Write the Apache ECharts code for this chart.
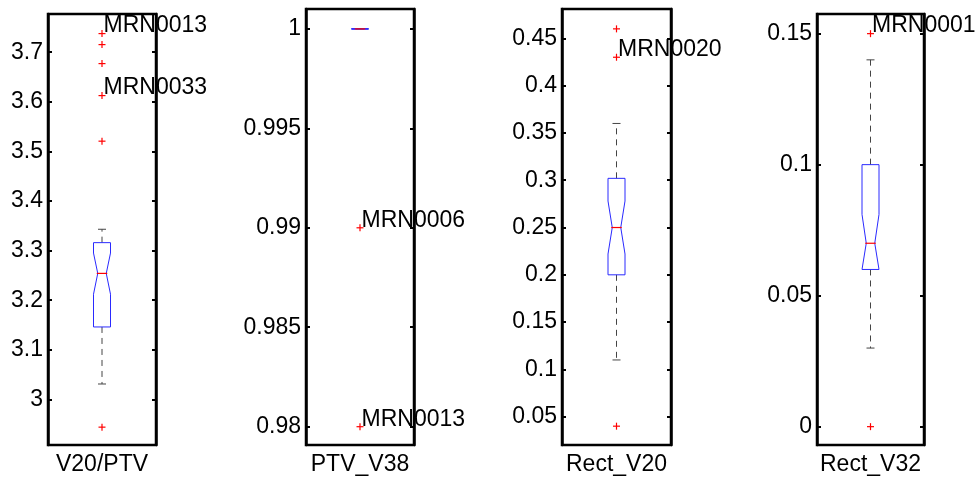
<!DOCTYPE html>
<html>
<head>
<meta charset="utf-8">
<script src="https://cdn.jsdelivr.net/npm/echarts@6/dist/echarts.min.js"></script>
<style>
  html, body { margin: 0; padding: 0; background: #fff; }
  #chart { width: 976px; height: 479px; }
</style>
</head>
<body>
<div id="chart"></div>
<script>
// box statistics, one entry per panel
var categories = ["V20/PTV", "PTV_V38", "Rect_V20", "Rect_V32"];
var lowerWhisker = [3.031, 1, 0.11, 0.03];
var q1 = [3.146, 1, 0.2, 0.06];
var median = [3.254, 1, 0.25, 0.07];
var q3 = [3.316, 1, 0.302, 0.1];
var upperWhisker = [3.343, 1, 0.36, 0.14];
var notchLow = [3.212, 1, 0.222, 0.059];
var notchHigh = [3.295, 1, 0.278, 0.081];

// outliers
var outlierPanel = [0, 0, 0, 0, 0, 0, 1, 1, 2, 2, 2, 3, 3];
var outlierValue = [3.7375, 3.7153, 3.677, 3.6125, 3.5206, 2.944, 0.99, 0.98, 0.46, 0.43, 0.04, 0.15, 0];
var outlierName = ["MRN0013", "", "", "MRN0033", "", "", "MRN0006", "MRN0013", "", "MRN0020", "", "MRN0001", ""];

// axis ranges
var yMin = [2.908, 0.97908, 0.0201, -0.007];
var yMax = [3.777, 1.001, 0.481, 0.1575];
var ySplit = [9, 4, 9, 3];

var FONT = "Liberation Sans, Arial, Helvetica, sans-serif";
var gridPos = [
  { left: 48, top: 14, width: 108, height: 431 },
  { left: 306, top: 9, width: 108, height: 436 },
  { left: 562, top: 9, width: 109, height: 436 },
  { left: 817, top: 14, width: 107, height: 431 }
];

function renderBox(params, api) {
  var i = api.value(0);
  var half = 8.5;
  var p = function(v) { return api.coord([i, v]); };
  var x = p(api.value(3))[0];
  var yLw = p(api.value(1))[1], yQ1 = p(api.value(2))[1], yMed = p(api.value(3))[1];
  var yQ3 = p(api.value(4))[1], yUw = p(api.value(5))[1];
  var yNl = Math.min(p(api.value(6))[1], yQ1), yNh = Math.max(p(api.value(7))[1], yQ3);
  var dash = { stroke: "#444", lineWidth: 1, lineDash: [6, 5] };
  var cap = { stroke: "#444", lineWidth: 1 };
  return {
    type: "group",
    children: [
      { type: "line", shape: { x1: x, y1: yQ3, x2: x, y2: yUw }, style: dash },
      { type: "line", shape: { x1: x, y1: yQ1, x2: x, y2: yLw }, style: dash },
      { type: "line", shape: { x1: x - 4, y1: yUw, x2: x + 4, y2: yUw }, style: cap },
      { type: "line", shape: { x1: x - 4, y1: yLw, x2: x + 4, y2: yLw }, style: cap },
      {
        type: "polygon",
        shape: {
          points: [
            [x - half, yQ1], [x - half, yNl], [x - half / 2, yMed], [x - half, yNh], [x - half, yQ3],
            [x + half, yQ3], [x + half, yNh], [x + half / 2, yMed], [x + half, yNl], [x + half, yQ1]
          ]
        },
        style: { fill: "none", stroke: "#2a2aff", lineWidth: 1, lineJoin: "bevel" }
      },
      { type: "line", shape: { x1: x - half / 2 - 1, y1: yMed, x2: x + half / 2 + 1, y2: yMed }, style: { stroke: "#ff0000", lineWidth: 1.2 } }
    ]
  };
}

function renderOutlier(params, api) {
  var pt = api.coord([0, api.value(1)]);
  var name = outlierName[api.value(2)];
  var s = 3.5;
  var children = [
    { type: "line", shape: { x1: pt[0] - s, y1: pt[1], x2: pt[0] + s, y2: pt[1] }, style: { stroke: "#ff0000", lineWidth: 1.2 } },
    { type: "line", shape: { x1: pt[0], y1: pt[1] - s, x2: pt[0], y2: pt[1] + s }, style: { stroke: "#ff0000", lineWidth: 1.2 } }
  ];
  if (name) {
    children.push({
      type: "text",
      style: { text: name, x: pt[0] + 1.5, y: pt[1] + 4, font: "23px " + FONT, fill: "#000", align: "left", verticalAlign: "bottom" }
    });
  }
  return { type: "group", children: children };
}

var grids = [], xAxes = [], yAxes = [], series = [];
categories.forEach(function(cat, k) {
  grids.push(Object.assign({ show: true, borderColor: "#000", borderWidth: 2.5, backgroundColor: "transparent" }, gridPos[k]));
  xAxes.push({
    type: "category", gridIndex: k, data: [cat],
    axisLine: { show: false }, axisTick: { show: false }, splitLine: { show: false },
    axisLabel: { color: "#000", fontSize: 23, fontFamily: FONT, margin: 8 }
  });
  [0, 1].forEach(function(side) {
    yAxes.push({
      type: "value", gridIndex: k, position: side ? "right" : "left",
      min: yMin[k], max: yMax[k], splitNumber: ySplit[k], z: 5,
      axisLine: { show: true, lineStyle: { color: "#000", width: 2.5 } },
      axisTick: { show: true, inside: true, length: 4, lineStyle: { color: "#000", width: 2 } },
      splitLine: { show: false },
      axisLabel: { show: !side, showMinLabel: false, showMaxLabel: false, color: "#000", fontSize: 23, fontFamily: FONT, margin: 5 }
    });
  });
  series.push({
    type: "custom", xAxisIndex: k, yAxisIndex: k * 2, renderItem: renderBox,
    data: [[0, lowerWhisker[k], q1[k], median[k], q3[k], upperWhisker[k], notchLow[k], notchHigh[k]]]
  });
  var pts = [];
  outlierPanel.forEach(function(g, j) { if (g === k) pts.push([0, outlierValue[j], j]); });
  series.push({ type: "custom", xAxisIndex: k, yAxisIndex: k * 2, renderItem: renderOutlier, data: pts });
});

var chart = echarts.init(document.getElementById("chart"));
chart.setOption({
  animation: false,
  backgroundColor: "#fff",
  grid: grids,
  xAxis: xAxes,
  yAxis: yAxes,
  series: series
});
</script>
</body>
</html>
